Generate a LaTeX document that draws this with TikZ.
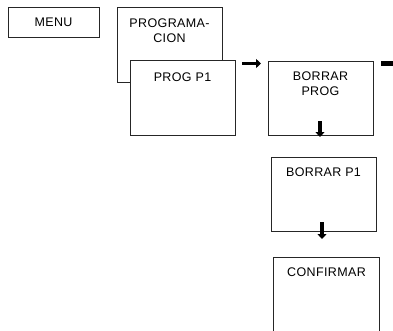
\documentclass[tikz,border=0pt]{standalone}
\usepackage{fontspec}
\setmainfont{Liberation Sans}[LetterSpace=3]
\usetikzlibrary{arrows.meta,calc}
\begin{document}
\begin{tikzpicture}[x=1pt,y=-1pt,
  box/.style={draw=black!85,line width=0.8pt,fill=white,inner sep=0pt,outer sep=0pt,anchor=north west},
  lbl/.style={anchor=base,inner sep=0pt,font=\fontsize{12.5}{15}\selectfont,align=center},
  blockarrow/.style={line width=3.8pt,-{Triangle[length=5pt,width=9pt]}},
  bar/.style={line width=4.5pt}]
\useasboundingbox (0,0) rectangle (393,330);
\clip (0,0) rectangle (393,330);
% boxes
\node[box,minimum width=91pt,minimum height=30pt] (menu) at (8,7) {};
\node[box,minimum width=105pt,minimum height=75pt] (prog) at (117,7) {};
\node[box,minimum width=105pt,minimum height=75pt] (pp1) at (130,60) {};
\node[box,minimum width=105pt,minimum height=74pt] (bp) at (268,61) {};
\node[box,minimum width=105pt,minimum height=74pt] (bp1) at (271,157) {};
\node[box,minimum width=106pt,minimum height=90pt] (conf) at (273,257) {};
% labels
\node[lbl] (tmenu) at (53.5,26.5) {MENU};
\node[lbl] (tprog) at (169.5,42.3) {PROGRAMA-\\CION};
\node[lbl] (tpp1) at (182.5,81) {PROG P1};
\node[lbl] (tbp) at (320.5,95) {BORRAR\\PROG};
\node[lbl] (tbp1) at (323.5,176) {BORRAR P1};
\node[lbl] (tconf) at (326.5,276) {CONFIRMAR};
% arrows
\coordinate (a1s) at (242,63.5);
\coordinate (a1e) at (261,63.5);
\draw[blockarrow] (a1s) -- (a1e);
\coordinate (a2s) at (381,63.5);
\coordinate (a2e) at (395,63.5);
\draw[bar] (a2s) -- (a2e);
\draw[blockarrow] ($(bp.south)+(-0.5,-14)$) -- ($(bp.south)+(-0.5,2)$);
\draw[blockarrow] ($(bp1.south)+(-1.5,-9)$) -- ($(bp1.south)+(-1.5,8)$);
\end{tikzpicture}
\end{document}
